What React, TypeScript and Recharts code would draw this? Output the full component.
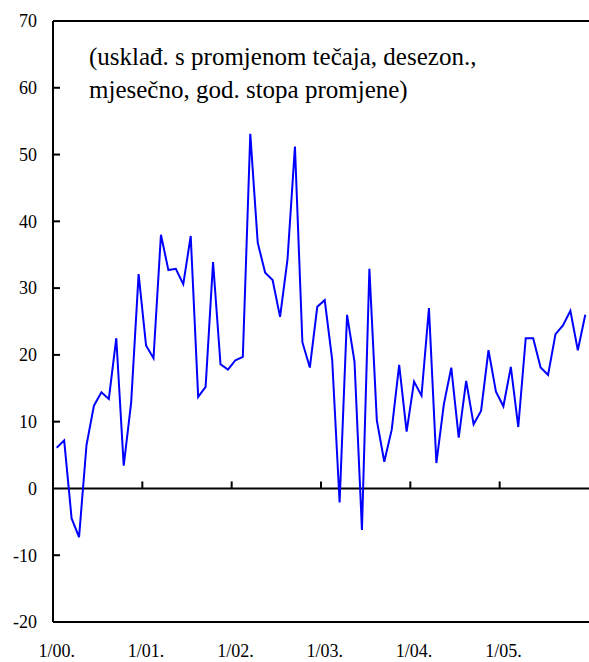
import { LineChart, Line, XAxis, YAxis, ReferenceLine } from 'recharts';

// monthly, 1/2000 - 12/2005
const values = [
  6.1, 7.2, -4.5, -7.3, 6.5, 12.4, 14.4, 13.4, 22.5, 3.4, 12.9, 32.1,
  21.4, 19.5, 38.0, 32.7, 32.9, 30.6, 37.8, 13.7, 15.2, 33.9, 18.6, 17.8,
  19.2, 19.7, 53.1, 36.8, 32.3, 31.2, 25.7, 34.3, 51.2, 21.9, 18.1, 27.2,
  28.2, 19.3, -2.1, 26.0, 19.0, -6.2, 32.9, 10.2, 4.0, 8.8, 18.5, 8.5,
  16.0, 13.9, 27.0, 3.8, 12.6, 18.1, 7.6, 16.1, 9.6, 11.6, 20.7, 14.5,
  12.3, 18.2, 9.2, 22.5, 22.5, 18.1, 17.0, 23.1, 24.4, 26.6, 20.7, 26.0,
];

const yearLabels = ['1/00.', '1/01.', '1/02.', '1/03.', '1/04.', '1/05.'];
const yearStarts = [0, 12, 24, 36, 48, 60];
const yearBounds = [11.5, 23.5, 35.5, 47.5, 59.5];
const yTicks = [-20, -10, 0, 10, 20, 30, 40, 50, 60, 70];

const data = values.map((v, i) => ({ t: i, v }));

const FONT = "'Liberation Serif', Tinos, 'Times New Roman', Times, serif";

function YTick({ x, y, payload }: any) {
  return (
    <g>
      <text x={x} y={y} dy="0.35em" textAnchor="end" fontSize={18} style={{ fontFamily: FONT }} fill="#000">
        {payload.value}
      </text>
      {payload.value > -20 && payload.value < 70 && payload.value !== 0 && (
        <line x1={x + 16} x2={x + 23} y1={y} y2={y} stroke="#000" strokeWidth={2} />
      )}
    </g>
  );
}

function XTick({ x, y, payload }: any) {
  return (
    <text x={x} y={y} dy="0.71em" textAnchor="middle" fontSize={18} style={{ fontFamily: FONT }} fill="#000">
      {yearLabels[yearStarts.indexOf(payload.value)] ?? ''}
    </text>
  );
}

export default function App() {
  return (
    <div style={{ position: 'relative', width: 589, height: 662, background: '#fff', fontFamily: FONT }}>
      <style>{'body{margin:0}'}</style>
      <LineChart width={589} height={662} data={data} margin={{ top: 21, right: 0, bottom: 0, left: 0 }}>
        <XAxis
          dataKey="t"
          type="number"
          domain={[-0.5, 71.5]}
          ticks={yearStarts}
          axisLine={{ stroke: '#000', strokeWidth: 2 }}
          tickLine={false}
          tickSize={0}
          tickMargin={22}
          height={40}
          tick={<XTick />}
          interval={0}
        />
        <YAxis
          domain={[-20, 70]}
          ticks={yTicks}
          width={53}
          axisLine={{ stroke: '#000', strokeWidth: 2 }}
          tickLine={false}
          tickSize={0}
          tickMargin={16}
          tick={<YTick />}
          interval={0}
        />
        <ReferenceLine y={70} stroke="#000" strokeWidth={2} />
        <ReferenceLine y={0} stroke="#000" strokeWidth={2} />
        {yearBounds.map((b) => (
          <ReferenceLine
            key={b}
            segment={[{ x: b, y: 0 }, { x: b, y: 1.05 }]}
            stroke="#000"
            strokeWidth={2}
          />
        ))}
        <Line
          type="linear"
          dataKey="v"
          stroke="#0000ff"
          strokeWidth={2}
          dot={false}
          isAnimationActive={false}
        />
      </LineChart>
      <div
        style={{
          position: 'absolute',
          left: 89,
          top: 40,
          fontFamily: FONT,
          fontSize: 25,
          lineHeight: '33px',
          color: '#000',
          whiteSpace: 'nowrap',
        }}
      >
        (usklađ. s promjenom tečaja, desezon.,
        <br />
        mjesečno, god. stopa promjene)
      </div>
    </div>
  );
}
